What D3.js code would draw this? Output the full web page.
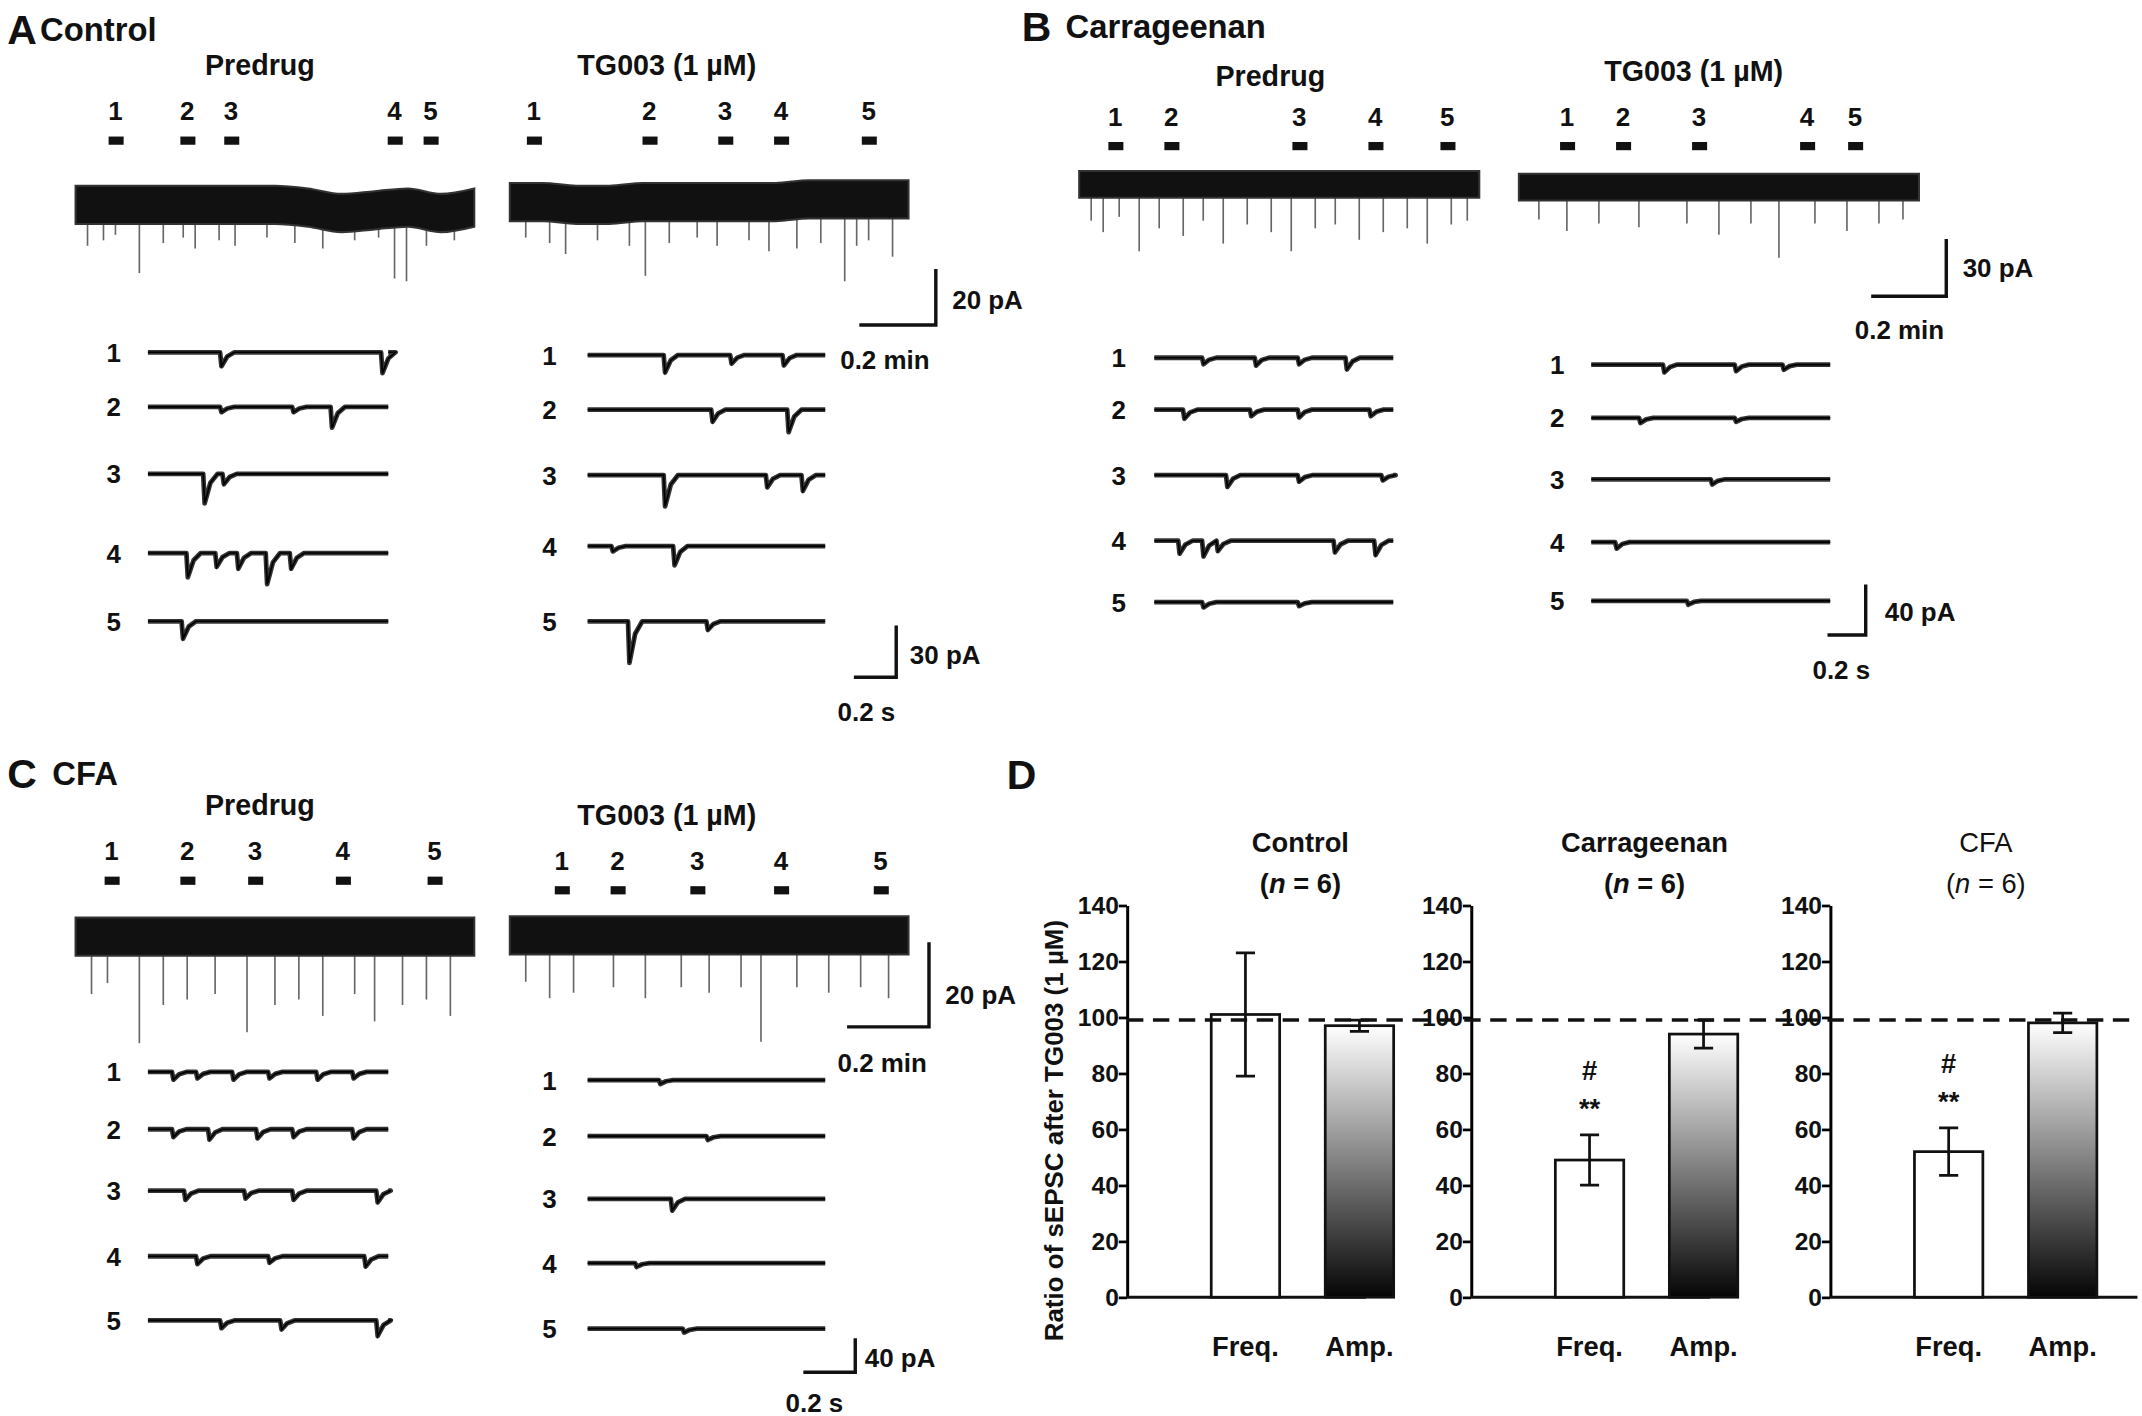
<!DOCTYPE html>
<html><head><meta charset="utf-8">
<script src="https://cdn.jsdelivr.net/npm/d3@7"></script>
<style>body{margin:0;background:#fff}text{font-family:"Liberation Sans",Arial,sans-serif;font-weight:bold;fill:#111}</style>
</head><body>
<script>
// ---- panel D data ----
var groups = ["Control", "Carrageenan", "CFA"];
var measures = ["Freq.", "Amp."];
var freqMean = [101, 49, 52], freqErr = [22, 9, 8.5];
var ampMean = [97, 94, 98], ampErr = [2, 5, 3.5];
var yTicks = [0, 20, 40, 60, 80, 100, 120, 140];

// ---- traces: events as [position 0..1, amplitude pA] ----
var markA = [[0.10,0.28,0.39,0.80,0.89],[0.06,0.35,0.54,0.68,0.90]];
var markB = [[0.09,0.23,0.55,0.74,0.92],[0.12,0.26,0.45,0.72,0.84]];
var markC = [[0.09,0.28,0.45,0.67,0.90],[0.13,0.27,0.47,0.68,0.93]];
var driftA = [[0,0,0,0,0,0,0,-1,-3,-2,-1,-3,-1],[0,0,-1,-1,0,0,0,0,0,1,1,1,1]];
var driftB = [[0,0,0,0,0,0,0,0,0,0,0,0,0],[0,0,0,0,0,0,0,0,0,0,0,0,0]];
var driftC = [[0,0,0,0,0,0,0,0,0,0,0,0,0],[0,0,0,0,0,0,0,0,0,0,0,0,0]];
var spikesA = [
  [[0.03,8],[0.07,6],[0.1,4],[0.16,18],[0.22,7],[0.27,5],[0.3,9],[0.36,6],[0.4,8],[0.48,5],[0.55,7],[0.62,9],[0.7,6],[0.76,5],[0.8,20],[0.83,21],[0.88,8],[0.95,6]],
  [[0.04,6],[0.1,8],[0.14,12],[0.22,7],[0.3,9],[0.34,20],[0.4,8],[0.47,6],[0.52,9],[0.6,7],[0.65,11],[0.72,10],[0.78,8],[0.84,22],[0.87,9],[0.9,7],[0.96,13]]];
var spikesB = [
  [[0.03,12],[0.06,18],[0.1,10],[0.15,28],[0.2,16],[0.26,20],[0.31,12],[0.36,24],[0.42,14],[0.48,18],[0.53,28],[0.59,16],[0.64,14],[0.7,22],[0.76,18],[0.82,16],[0.87,24],[0.93,14],[0.97,12]],
  [[0.05,10],[0.12,16],[0.2,12],[0.3,14],[0.42,12],[0.5,18],[0.58,12],[0.65,30],[0.74,12],[0.82,16],[0.9,12],[0.96,10]]];
var spikesC = [
  [[0.04,14],[0.08,10],[0.16,32],[0.22,18],[0.28,16],[0.35,14],[0.43,28],[0.5,18],[0.56,16],[0.62,22],[0.7,14],[0.75,24],[0.82,18],[0.88,16],[0.94,22]],
  [[0.04,10],[0.1,16],[0.16,14],[0.26,12],[0.34,16],[0.43,12],[0.5,14],[0.58,12],[0.63,32],[0.72,12],[0.8,14],[0.88,12],[0.95,16]]];
var snipsA = [
  [[[0.3,8],[0.97,12]],[[0.76,12],[0.3,3],[0.6,3]],[[0.23,17],[0.31,6]],[[0.16,14],[0.28,8],[0.37,9],[0.49,18],[0.59,9]],[[0.14,10]]],
  [[[0.32,10],[0.6,5],[0.82,6]],[[0.52,7],[0.84,13]],[[0.32,18],[0.75,7],[0.9,9]],[[0.36,11],[0.1,3]],[[0.17,24],[0.5,5]]]];
var snipsB = [
  [[[0.2,5],[0.42,6],[0.6,5],[0.8,9]],[[0.12,7],[0.4,5],[0.6,6],[0.9,5]],[[0.3,9],[0.6,5],[0.95,4]],[[0.1,10],[0.2,12],[0.26,8],[0.75,9],[0.92,11]],[[0.2,4],[0.6,3]]],
  [[[0.3,6],[0.6,5],[0.8,4]],[[0.2,4],[0.6,3]],[[0.5,4]],[[0.1,5]],[[0.4,3]]]];
var snipsC = [
  [[[0.1,6],[0.2,5],[0.35,6],[0.5,5],[0.7,6],[0.85,5]],[[0.1,6],[0.25,8],[0.45,7],[0.6,6],[0.85,7]],[[0.15,7],[0.4,6],[0.6,7],[0.95,9]],[[0.2,6],[0.5,5],[0.9,8]],[[0.3,6],[0.55,7],[0.95,12]]],
  [[[0.3,3]],[[0.5,3]],[[0.35,9]],[[0.2,3]],[[0.4,3]]]];

var svg = d3.select("body").append("svg").attr("width", 2142).attr("height", 1416).attr("viewBox", "0 0 1568 1037");

function txt(x, y, s, size, anchor) {
  return svg.append("text").attr("x", x).attr("y", y).attr("font-size", size).attr("text-anchor", anchor || "middle").text(s);
}

function longTrace(x0, x1, base, pxPerPA, drift, spikes, band) {
  var x = d3.scaleLinear().domain([0, 1]).range([x0, x1]);
  var y = d3.scaleLinear().domain([-20, 20]).range([base + 20 * pxPerPA, base - 20 * pxPerPA]);
  var pts = drift.map(function(d, i) { return [i / (drift.length - 1), d]; });
  var area = d3.area().x(function(d) { return x(d[0]); })
    .y0(function(d) { return y(d[1] - band); }).y1(function(d) { return y(d[1] + band); }).curve(d3.curveMonotoneX);
  svg.append("g").selectAll("line.s").data(spikes).enter().append("line")
    .attr("x1", function(d) { return x(d[0]); }).attr("x2", function(d) { return x(d[0]); })
    .attr("y1", base).attr("y2", function(d) { return y(-band - d[1]); })
    .attr("stroke", "#666").attr("stroke-width", 1.2);
  svg.append("path").attr("d", area(pts)).attr("fill", "#111").attr("stroke", "#333").attr("stroke-width", 1.5);
}

function snippet(x0, x1, base, pxPerPA, events) {
  var x = d3.scaleLinear().domain([0, 1]).range([x0, x1]);
  var y = d3.scaleLinear().domain([-1, 0]).range([base + pxPerPA, base]);
  var pts = [[0, 0]];
  events.slice().sort(function(a, b) { return a[0] - b[0]; }).forEach(function(e) {
    pts.push([e[0], 0], [e[0] + 0.006, -e[1]], [e[0] + 0.03, -e[1] * 0.3], [e[0] + 0.06, 0]);
  });
  pts.push([1, 0]);
  var line = d3.line().x(function(d) { return x(d[0]); }).y(function(d) { return y(d[1]); });
  svg.append("path").attr("d", line(pts))
    .attr("fill", "none").attr("stroke", "#333").attr("stroke-width", 3.5).attr("stroke-linejoin", "round");
  svg.append("path").attr("d", line(pts))
    .attr("fill", "none").attr("stroke", "#000").attr("stroke-width", 1.2);
}

function scaleBar(xv, yTop, yBot, xLeft, lab1, lx1, ly1, lab2, lx2, ly2) {
  svg.append("path").attr("d", "M" + xv + "," + yTop + "V" + yBot + "H" + xLeft).attr("fill", "none").attr("stroke", "#111").attr("stroke-width", 2.5);
  txt(lx1, ly1, lab1, 19, "start");
  txt(lx2, ly2, lab2, 19, "start");
}

function panel(cfg) {
  [0, 1].forEach(function(k) {
    var c = cfg.cols[k];
    txt(c.tx, c.ty, k === 0 ? "Predrug" : "TG003 (1 µM)", 21);
    cfg.marks[k].forEach(function(m, i) {
      var mx = c.x0 + m * (c.x1 - c.x0);
      txt(mx, c.my, String(i + 1), 19);
      svg.append("rect").attr("x", mx - 5).attr("y", c.my + 12).attr("width", 11).attr("height", 6).attr("fill", "#111");
    });
    longTrace(c.x0, c.x1, c.base, cfg.longPx, cfg.drift[k], cfg.spikes[k], 7);
    c.rows.forEach(function(ry, i) {
      txt(c.lx, ry + 7, String(i + 1), 19);
      snippet(c.sx0, c.sx1, ry, cfg.snipPx, cfg.snips[k][i]);
    });
  });
}

// Panel A
txt(5, 32, "A", 30, "start"); txt(29, 30, "Control", 24, "start");
panel({marks: markA, drift: driftA, spikes: spikesA, snips: snipsA, longPx: 2, snipPx: 1.27,
  cols: [{tx: 190, ty: 55, my: 88, x0: 55, x1: 347, base: 150, lx: 83, sx0: 108, sx1: 284, rows: [258, 298, 347, 405, 455]},
         {tx: 488, ty: 55, my: 88, x0: 373, x1: 665, base: 148, lx: 402, sx0: 430, sx1: 604, rows: [260, 300, 348, 400, 455]}]});
scaleBar(685, 197, 238, 629, "20 pA", 697, 226, "0.2 min", 615, 270);
scaleBar(656, 458, 496, 625, "30 pA", 666, 486, "0.2 s", 613, 528);

// Panel B
txt(748, 30, "B", 30, "start"); txt(780, 28, "Carrageenan", 24, "start");
panel({marks: markB, drift: driftB, spikes: spikesB, snips: snipsB, longPx: 1.4, snipPx: 0.95,
  cols: [{tx: 930, ty: 63, my: 92, x0: 790, x1: 1083, base: 135, lx: 819, sx0: 845, sx1: 1020, rows: [262, 300, 348, 396, 441]},
         {tx: 1240, ty: 59, my: 92, x0: 1112, x1: 1405, base: 137, lx: 1140, sx0: 1165, sx1: 1340, rows: [267, 306, 351, 397, 440]}]});
scaleBar(1425, 175, 217, 1370, "30 pA", 1437, 203, "0.2 min", 1358, 248);
scaleBar(1366, 428, 465, 1338, "40 pA", 1380, 455, "0.2 s", 1327, 497);

// Panel C
txt(5, 577, "C", 30, "start"); txt(38, 575, "CFA", 24, "start");
panel({marks: markC, drift: driftC, spikes: spikesC, snips: snipsC, longPx: 2, snipPx: 0.95,
  cols: [{tx: 190, ty: 597, my: 630, x0: 55, x1: 347, base: 686, lx: 83, sx0: 108, sx1: 284, rows: [785, 827, 872, 920, 967]},
         {tx: 488, ty: 604, my: 637, x0: 373, x1: 665, base: 685, lx: 402, sx0: 430, sx1: 604, rows: [791, 832, 878, 925, 973]}]});
scaleBar(680, 690, 752, 620, "20 pA", 692, 735, "0.2 min", 613, 785);
scaleBar(626, 980, 1005, 588, "40 pA", 633, 1001, "0.2 s", 575, 1034);

// Panel D
txt(737, 578, "D", 30, "start");
var defs = svg.append("defs");
var grad = defs.append("linearGradient").attr("id", "g").attr("x1", 0).attr("x2", 0).attr("y1", 0).attr("y2", 1);
grad.append("stop").attr("offset", "0%").attr("stop-color", "#fff");
grad.append("stop").attr("offset", "100%").attr("stop-color", "#050505");
var y = d3.scaleLinear().domain([0, 140]).range([950, 663]);
var axX = [825, 1077, 1340];
svg.append("text").attr("transform", "translate(778,828) rotate(-90)").attr("font-size", 19).attr("text-anchor", "middle").text("Ratio of sEPSC after TG003 (1 µM)");
groups.forEach(function(gname, i) {
  var ox = axX[i];
  var x = d3.scaleBand().domain(measures).range([ox + 45, ox + 212]).paddingInner(0.4).paddingOuter(0.2);
  var g = svg.append("g");
  g.append("g").attr("transform", "translate(" + ox + ",0)")
    .call(d3.axisLeft(y).tickValues(yTicks).tickSize(6).tickSizeOuter(0))
    .call(function(a) { a.select(".domain").attr("stroke-width", 2.2); a.selectAll(".tick line").attr("stroke-width", 2); a.selectAll("text").attr("font-size", 18).attr("dx", 3); });
  g.append("line").attr("x1", ox).attr("x2", ox + 175 + (i === 2 ? 50 : 0)).attr("y1", y(0)).attr("y2", y(0)).attr("stroke", "#111").attr("stroke-width", 2.2);
  var vals = [[freqMean[i], freqErr[i]], [ampMean[i], ampErr[i]]];
  vals.forEach(function(v, j) {
    var bx = x(measures[j]), bw = x.bandwidth();
    g.append("rect").attr("x", bx).attr("y", y(v[0])).attr("width", bw).attr("height", y(0) - y(v[0]))
      .attr("fill", j === 0 ? "#fff" : "url(#g)").attr("stroke", "#111").attr("stroke-width", 2);
    var cx = bx + bw / 2;
    g.append("path").attr("d", "M" + cx + "," + y(v[0] - v[1]) + "V" + y(v[0] + v[1]) +
      "M" + (cx - 7) + "," + y(v[0] - v[1]) + "h14M" + (cx - 7) + "," + y(v[0] + v[1]) + "h14")
      .attr("stroke", "#111").attr("stroke-width", 2).attr("fill", "none");
    txt(cx, 993, measures[j], 20);
  });
  var tc = ox + 127 - (i === 2 ? 13 : 0);
  g.append("text").attr("x", tc).attr("y", 624).attr("font-size", 20).attr("text-anchor", "middle").style("font-weight", i === 2 ? "normal" : "bold").text(gname);
  var nt = g.append("text").attr("x", tc).attr("y", 654).attr("font-size", 20).attr("text-anchor", "middle").style("font-weight", i === 2 ? "normal" : "bold");
  nt.append("tspan").text("(");
  nt.append("tspan").attr("font-style", "italic").text("n");
  nt.append("tspan").text(" = 6)");
  if (i > 0) {
    var fx = x("Freq.") + x.bandwidth() / 2;
    txt(fx, y(freqMean[i] + freqErr[i]) - 40, "#", 20);
    txt(fx, y(freqMean[i] + freqErr[i]) - 12, "**", 20);
  }
});
svg.append("line").attr("x1", 825).attr("x2", 1566).attr("y1", y(99)).attr("y2", y(99))
  .attr("stroke", "#111").attr("stroke-width", 2.5).attr("stroke-dasharray", "12,7");
</script>
</body></html>
